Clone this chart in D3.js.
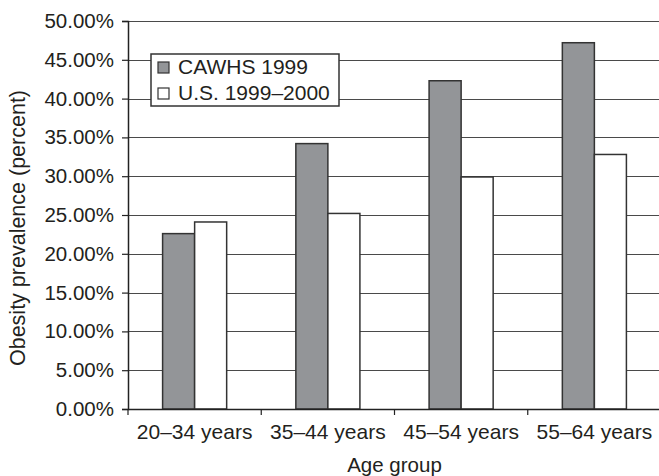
<!DOCTYPE html>
<html>
<head>
<meta charset="utf-8">
<script src="https://cdn.jsdelivr.net/npm/d3@7"></script>
<style>
  html, body { margin: 0; padding: 0; background: #fff; }
  svg { display: block; }
  text { font-family: "Liberation Sans", Arial, Helvetica, sans-serif; fill: #231f20; }
</style>
</head>
<body>
<svg id="chart" width="659" height="476"></svg>
<script>
const categories = ["20\u201334 years", "35\u201344 years", "45\u201354 years", "55\u201364 years"];
const seriesNames = ["CAWHS 1999", "U.S. 1999\u20132000"];
const cawhs1999 = [22.6, 34.2, 42.3, 47.2];
const us19992000 = [24.1, 25.2, 29.9, 32.8];
const yTicks = [0, 5, 10, 15, 20, 25, 30, 35, 40, 45, 50];
const xTitle = "Age group";
const yTitle = "Obesity prevalence (percent)";

const seriesColors = ["#939598", "#ffffff"];
const seriesValues = [cawhs1999, us19992000];

const svg = d3.select("#chart");
const mLeft = 128, mRight = 661, mTop = 21, mBottom = 409;

const x = d3.scaleBand().domain(categories).range([mLeft, mRight]).paddingInner(0).paddingOuter(0);
const x1 = d3.scaleBand().domain(seriesNames).range([0, x.bandwidth()]).paddingInner(0).paddingOuter(1.08);
const y = d3.scaleLinear().domain([0, 50]).range([mBottom, mTop]);

// gridlines
svg.append("g").selectAll("line").data(yTicks).join("line")
  .attr("x1", mLeft).attr("x2", mRight)
  .attr("y1", d => Math.round(y(d)) + 0.5).attr("y2", d => Math.round(y(d)) + 0.5)
  .attr("stroke", "#4a4a4a").attr("stroke-width", 1.2);

// bars
const groups = svg.append("g").selectAll("g").data(categories).join("g")
  .attr("transform", d => `translate(${x(d)},0)`);
groups.selectAll("rect")
  .data((c, i) => seriesNames.map((s, j) => ({ s, j, v: seriesValues[j][i] })))
  .join("rect")
  .attr("x", d => x1(d.s))
  .attr("width", x1.bandwidth())
  .attr("y", d => y(d.v))
  .attr("height", d => y(0) - y(d.v))
  .attr("fill", d => seriesColors[d.j])
  .attr("stroke", "#333").attr("stroke-width", 1.5);

// y axis
const yAxis = d3.axisLeft(y).tickValues(yTicks).tickSize(6).tickPadding(8)
  .tickFormat(d => d3.format(".2f")(d) + "%");
const ya = svg.append("g").attr("transform", `translate(${mLeft},0)`).call(yAxis);
ya.select(".domain").attr("stroke", "#222").attr("stroke-width", 1.5);
ya.selectAll(".tick line").attr("stroke", "#222").attr("stroke-width", 1.2);
ya.selectAll(".tick text").attr("font-size", 20.5).attr("font-family", "Liberation Sans, Arial, sans-serif").attr("fill", "#231f20");

// x axis
const xAxis = d3.axisBottom(x).tickSize(0).tickPadding(15);
const xa = svg.append("g").attr("transform", `translate(0,${mBottom})`).call(xAxis);
xa.select(".domain").attr("stroke", "#222").attr("stroke-width", 1.5);
xa.selectAll(".tick text").attr("font-size", 21).attr("font-family", "Liberation Sans, Arial, sans-serif").attr("fill", "#231f20");
// category boundary ticks
xa.append("g").selectAll("line").data(categories).join("line")
  .attr("x1", d => x(d)).attr("x2", d => x(d))
  .attr("y1", 0).attr("y2", 6)
  .attr("stroke", "#222").attr("stroke-width", 1.2);

// axis titles
svg.append("text").attr("x", (mLeft + mRight) / 2).attr("y", 472)
  .attr("text-anchor", "middle").attr("font-size", 20.5).text(xTitle);
svg.append("text").attr("transform", `translate(25,228) rotate(-90)`)
  .attr("text-anchor", "middle").attr("font-size", 21.5).text(yTitle);

// legend
const lg = svg.append("g").attr("transform", "translate(151,54)");
lg.append("rect").attr("width", 188).attr("height", 52)
  .attr("fill", "#fff").attr("stroke", "#333").attr("stroke-width", 1.5);
const items = lg.selectAll("g.item").data(seriesNames).join("g").attr("class", "item")
  .attr("transform", (d, i) => `translate(0,${13 + i * 26})`);
items.append("rect").attr("x", 7).attr("y", -5).attr("width", 11).attr("height", 11)
  .attr("fill", (d, i) => seriesColors[i]).attr("stroke", "#333").attr("stroke-width", 1.2);
items.append("text").attr("x", 27).attr("y", 7).attr("font-size", 21).text(d => d);
</script>
</body>
</html>
